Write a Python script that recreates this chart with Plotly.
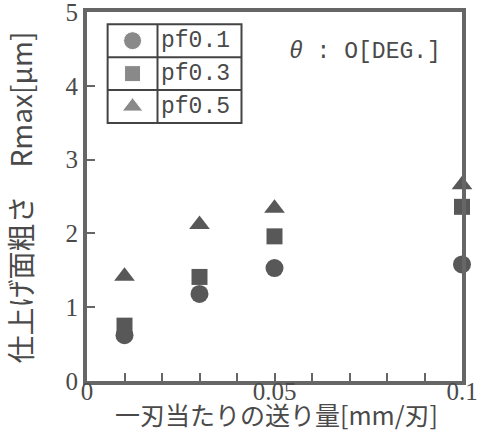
import plotly.graph_objects as go

# ---- data ----
feed = [0.01, 0.03, 0.05, 0.1]           # feed per tooth [mm/tooth]
rmax_pf01 = [0.62, 1.18, 1.53, 1.58]
rmax_pf03 = [0.75, 1.41, 1.96, 2.36]
rmax_pf05 = [1.42, 2.12, 2.34, 2.66]
series_names = ["pf0.1", "pf0.3", "pf0.5"]
series_symbols = ["circle", "square", "triangle-up"]
y_ticks = [0, 1, 2, 3, 4, 5]
x_ticks = [0, 0.05, 0.1]
x_tick_text = ["0", "0.05", "0.1"]
x_title = "一刃当たりの送り量[mm/刃]"
y_title = "仕上げ面粗さ　Rmax[μm]"

MARK = "#585858"
LINE = "#666666"
TXT = "#4a4a4a"
SERIF = "Liberation Serif"
MONO = "Liberation Mono"
CJK = "Noto Sans CJK JP"

fig = go.Figure()
sizes = [18, 16, 18]
for name, sym, vals, sz in zip(series_names, series_symbols,
                               [rmax_pf01, rmax_pf03, rmax_pf05], sizes):
    fig.add_trace(go.Scatter(x=feed, y=vals, mode="markers", name=name,
                             marker=dict(symbol=sym, size=sz, color=MARK),
                             cliponaxis=False, showlegend=False))

# legend table (paper coordinates)
lx0, lx1, lxc = 0.055, 0.412, 0.188
ly_top, ly_bot = 0.967, 0.699
row_h = (ly_top - ly_bot) / 3
shapes = [dict(type="rect", xref="paper", yref="paper", x0=lx0, x1=lx1,
               y0=ly_bot, y1=ly_top, line=dict(color="#444", width=2)),
          dict(type="line", xref="paper", yref="paper", x0=lxc, x1=lxc,
               y0=ly_bot, y1=ly_top, line=dict(color="#444", width=2))]
for i in (1, 2):
    yy = ly_top - i * row_h
    shapes.append(dict(type="line", xref="paper", yref="paper", x0=lx0, x1=lx1,
                       y0=yy, y1=yy, line=dict(color="#444", width=2)))

row_centers = [ly_top - (i + 0.5) * row_h for i in range(3)]
fig.add_trace(go.Scatter(x=[(lx0 + lxc) / 2] * 3, y=row_centers, mode="markers",
                         marker=dict(symbol=series_symbols, size=sizes, color=MARK),
                         xaxis="x2", yaxis="y2", showlegend=False, hoverinfo="skip",
                         cliponaxis=False))

annotations = []
for name, yc in zip(series_names, row_centers):
    annotations.append(dict(x=lxc + 0.005, y=yc, xref="paper", yref="paper",
                            text=name, showarrow=False, xanchor="left", yanchor="middle",
                            font=dict(family=MONO, size=23, color=TXT)))
annotations.append(dict(x=0.532, y=0.892, xref="paper", yref="paper",
                        text="<i>θ</i> : O[DEG.]", showarrow=False,
                        xanchor="left", yanchor="middle",
                        font=dict(family=MONO, size=23, color=TXT)))
# axis titles
annotations.append(dict(x=0.505, y=-0.09, xref="paper", yref="paper",
                        text=x_title, showarrow=False, xanchor="center", yanchor="middle",
                        font=dict(family=CJK, size=25, color=TXT)))
annotations.append(dict(x=-0.18, y=0.496, xref="paper", yref="paper",
                        text=y_title, showarrow=False, textangle=-90,
                        xanchor="center", yanchor="middle",
                        font=dict(family=CJK, size=28, color=TXT)))

fig.update_layout(
    width=478, height=434,
    margin=dict(l=87, r=16, t=12, b=53),
    paper_bgcolor="white", plot_bgcolor="white",
    font=dict(family=SERIF, size=25, color=TXT),
    shapes=shapes, annotations=annotations,
    xaxis=dict(range=[0, 0.1], tickvals=x_ticks, ticktext=x_tick_text,
               automargin=False, ticklabeloverflow="allow", ticklabelstandoff=-15,
               showline=True, mirror=True, linewidth=4, linecolor=LINE,
               showgrid=False, zeroline=False, ticks="inside", ticklen=8,
               tickwidth=2, tickcolor=LINE,
               minor=dict(dtick=0.01, ticks="inside", ticklen=8, tickwidth=2,
                          tickcolor=LINE, showgrid=False),
               tickfont=dict(family=SERIF, size=25, color=TXT)),
    yaxis=dict(range=[0, 5], tickvals=y_ticks, automargin=False,
               ticklabeloverflow="allow",
               showline=True, mirror=True, linewidth=4, linecolor=LINE,
               showgrid=False, zeroline=False, ticks="inside", ticklen=8,
               tickwidth=2, tickcolor=LINE,
               tickfont=dict(family=SERIF, size=25, color=TXT)),
    xaxis2=dict(overlaying="x", range=[0, 1], visible=False),
    yaxis2=dict(overlaying="y", range=[0, 1], visible=False),
)

fig.write_html("out.html")
